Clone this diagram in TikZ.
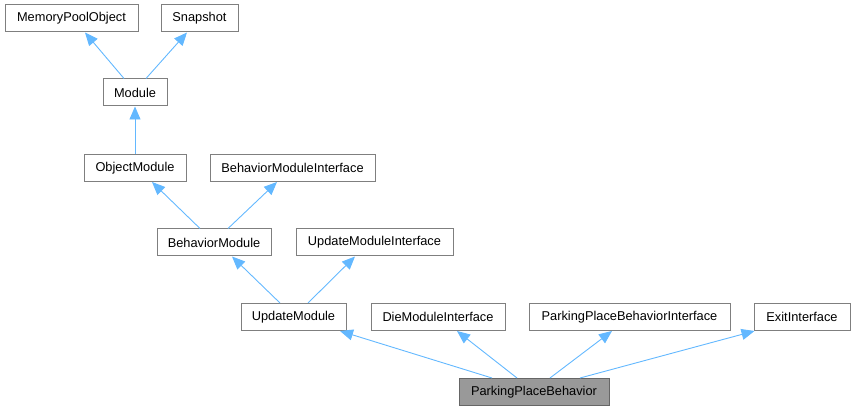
\documentclass[tikz,border=0pt]{standalone}
\usepackage{fontspec}
\setmainfont{Liberation Sans}
\usetikzlibrary{arrows.meta,calc}
\definecolor{edgeblue}{HTML}{63B8FF}
\definecolor{boxline}{HTML}{7F7F7F}
\definecolor{curline}{HTML}{666666}
\definecolor{curfill}{HTML}{999999}
\begin{document}
\begin{tikzpicture}[x=1pt,y=-1pt,
  cls/.style={draw=boxline,line width=1pt,fill=white,inner sep=0pt,minimum height=27pt,font=\fontsize{12.8}{14}\selectfont},
  cur/.style={cls,draw=curline,fill=curfill},
  inh/.style={draw=edgeblue,line width=0.9pt,{Triangle[length=13pt,width=11pt,fill=edgeblue]}-}]
\useasboundingbox (0,0) rectangle (855,411);
\node[cls,minimum width=133pt] (mpo) at (71.5,18.5) {MemoryPoolObject};
\node[cls,minimum width=77pt] (snap) at (199.5,18.5) {Snapshot};
\node[cls,minimum width=64pt] (mod) at (135,92.5) {Module};
\node[cls,minimum width=102pt] (om) at (135,168) {ObjectModule};
\node[cls,minimum width=165pt] (bmi) at (292.5,168) {BehaviorModuleInterface};
\node[cls,minimum width=114pt] (bm) at (214,242.5) {BehaviorModule};
\node[cls,minimum width=157pt] (umi) at (374.5,242.5) {UpdateModuleInterface};
\node[cls,minimum width=105pt] (um) at (293.5,317) {UpdateModule};
\node[cls,minimum width=134pt] (dmi) at (438,317) {DieModuleInterface};
\node[cls,minimum width=201pt] (ppbi) at (629.5,317) {ParkingPlaceBehaviorInterface};
\node[cls,minimum width=96pt] (exit) at (802,317) {ExitInterface};
\node[cur,minimum width=150pt] (ppb) at (534,392) {ParkingPlaceBehavior};
\draw[inh] ([xshift=13.5pt]mpo.south) -- ([xshift=-11pt]mod.north);
\draw[inh] ([xshift=-12.5pt]snap.south) -- ([xshift=11pt]mod.north);
\draw[inh] (mod.south) -- (om.north);
\draw[inh] ([xshift=17pt]om.south) -- ([xshift=-14pt]bm.north);
\draw[inh] ([xshift=-15.5pt]bmi.south) -- ([xshift=14pt]bm.north);
\draw[inh] ([xshift=18pt]bm.south) -- ([xshift=-13.5pt]um.north);
\draw[inh] ([xshift=-19.5pt]umi.south) -- ([xshift=14.5pt]um.north);
\draw[inh] ([xshift=46.5pt]um.south) -- ([xshift=-42pt]ppb.north);
\draw[inh] ([xshift=19pt]dmi.south) -- ([xshift=-17pt]ppb.north);
\draw[inh] ([xshift=-17.5pt]ppbi.south) -- ([xshift=16pt]ppb.north);
\draw[inh] ([xshift=1pt]exit.south west) -- ([xshift=46pt]ppb.north);
\end{tikzpicture}
\end{document}
